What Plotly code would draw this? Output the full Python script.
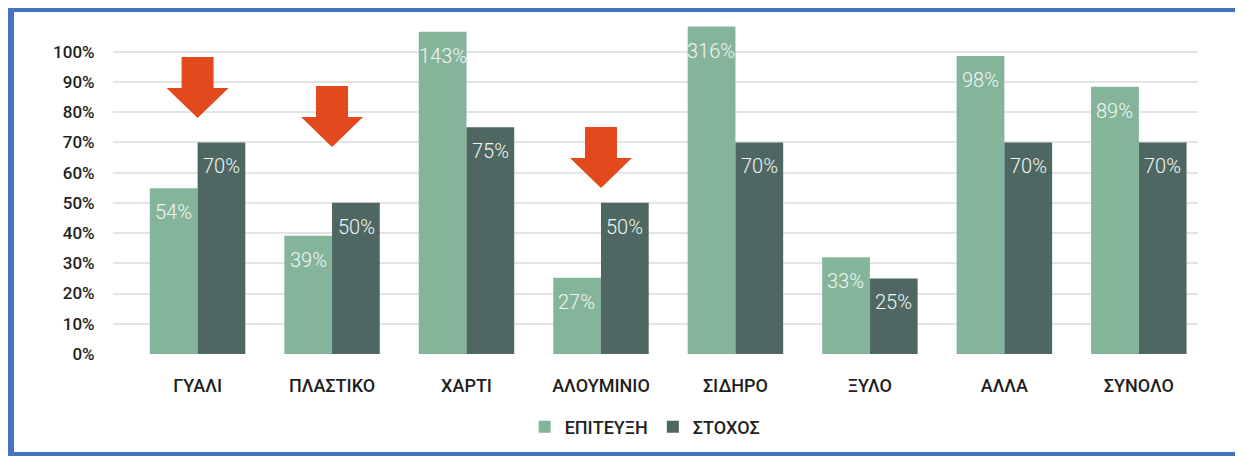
import plotly.graph_objects as go

# ---- data ----
categories = ["ΓΥΑΛΙ", "ΠΛΑΣΤΙΚΟ", "ΧΑΡΤΙ", "ΑΛΟΥΜΙΝΙΟ", "ΣΙΔΗΡΟ", "ΞΥΛΟ", "ΑΛΛΑ", "ΣΥΝΟΛΟ"]
achievement = [0.548, 0.391, 1.066, 0.252, 1.083, 0.32, 0.986, 0.884]      # drawn bar heights
achievement_labels = ["54%", "39%", "143%", "27%", "316%", "33%", "98%", "89%"]
target = [0.70, 0.50, 0.75, 0.50, 0.70, 0.25, 0.70, 0.70]
target_labels = ["70%", "50%", "75%", "50%", "70%", "25%", "70%", "70%"]
arrow_categories = ["ΓΥΑΛΙ", "ΠΛΑΣΤΙΚΟ", "ΑΛΟΥΜΙΝΙΟ"]
arrow_tips = [0.781, 0.685, 0.549]
tick_values = [0, 0.1, 0.2, 0.3, 0.4, 0.5, 0.6, 0.7, 0.8, 0.9, 1.0]
tick_labels = ["0%", "10%", "20%", "30%", "40%", "50%", "60%", "70%", "80%", "90%", "100%"]

LIGHT = "#84B59A"
DARK = "#4F6762"
ARROW = "#E2491D"
FRAME = "#4472C4"
FONT = "Roboto"
LABEL_COLOR = "#F2F6F3"

fig = go.Figure()
fig.add_trace(go.Bar(x=categories, y=achievement, name="ΕΠΙΤΕΥΞΗ",
                     marker=dict(color=LIGHT, line=dict(width=0)), hoverinfo="skip"))
fig.add_trace(go.Bar(x=categories, y=target, name="ΣΤΟΧΟΣ",
                     marker=dict(color=DARK, line=dict(width=0)), hoverinfo="skip"))

annotations = []
for c, v, t in zip(categories, achievement, achievement_labels):
    annotations.append(dict(x=c, y=v, xref="x", yref="y", text=t, showarrow=False,
                            xshift=-24, yshift=-10, yanchor="top", xanchor="center",
                            font=dict(family=FONT, size=20, color=LABEL_COLOR, weight=300)))
for c, v, t in zip(categories, target, target_labels):
    annotations.append(dict(x=c, y=v, xref="x", yref="y", text=t, showarrow=False,
                            xshift=24, yshift=-10, yanchor="top", xanchor="center",
                            font=dict(family=FONT, size=20, color=LABEL_COLOR, weight=300)))

shapes = []
arrow_path = "M0,0 L-31,30 L-16,30 L-16,61 L16,61 L16,30 L31,30 Z"
for c, tip in zip(arrow_categories, arrow_tips):
    shapes.append(dict(type="path", xref="x", yref="y", xsizemode="pixel", ysizemode="pixel",
                       xanchor=categories.index(c), yanchor=tip, path=arrow_path,
                       fillcolor=ARROW, line=dict(width=0), layer="above"))

# page has an 8px body margin: figure drawn 8px in from the window edge
W, H = 1235, 448
ml, mr, mt, mb = 105, 45, 18, 102
pw, ph = W - ml - mr, H - mt - mb
def px(p):
    return (p - ml) / pw
def py(q):
    return (H - mb - q) / ph
# blue outer frame as four bands (figure pixel coordinates)
for x0, x1, y0, y1 in [(-10, 6, -10, H + 10),        # left
                       (-10, W + 10, -10, 4),        # top
                       (1229, W + 10, -10, H + 10),  # right
                       (-10, W + 10, 444, H + 10)]:  # bottom
    shapes.append(dict(type="rect", xref="paper", yref="paper",
                       x0=px(x0), x1=px(x1), y0=py(y1), y1=py(y0),
                       line=dict(width=0), fillcolor=FRAME, layer="above"))

fig.update_layout(
    width=W, height=H,
    margin=dict(l=ml, r=mr, t=mt, b=mb, pad=0, autoexpand=False),
    paper_bgcolor="white", plot_bgcolor="white",
    barmode="group", bargap=0.29, bargroupgap=0,
    font=dict(family=FONT, size=16, color="#222222"),
    showlegend=True,
    legend=dict(orientation="h", x=0.49, xanchor="center", y=py(419), yanchor="middle",
                font=dict(family=FONT, size=18, color="#222222", weight=500),
                itemwidth=30, traceorder="normal", bgcolor="rgba(0,0,0,0)"),
    annotations=annotations,
    shapes=shapes,
)
fig.update_xaxes(type="category", range=[-0.629, 7.44], showgrid=False, zeroline=False,
                 showline=False, ticks="outside", ticklen=15, tickcolor="rgba(0,0,0,0)",
                 tickfont=dict(family=FONT, size=18, color="#1E1E1E", weight=500),
                 fixedrange=True)
fig.update_yaxes(range=[0, 1.085], tickvals=tick_values, ticktext=tick_labels,
                 showgrid=True, gridcolor="#E4E4E4", gridwidth=1.5, zeroline=False,
                 showline=False, ticks="outside", ticklen=14, tickcolor="rgba(0,0,0,0)",
                 tickfont=dict(family=FONT, size=17, color="#1E1E1E", weight=500),
                 fixedrange=True)

fig.write_html("out.html")
